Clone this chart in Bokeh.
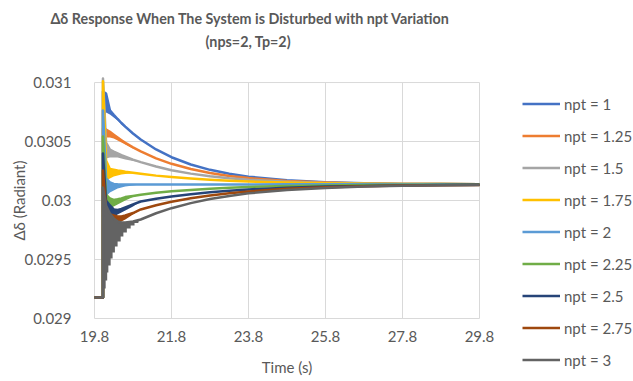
from bokeh.plotting import figure
from bokeh.models import Range1d, FixedTicker, Legend, LegendItem, Title
from bokeh.embed import file_html
from bokeh.resources import INLINE

# ---------------- data ----------------
series_names = ["npt = 1", "npt = 1.25", "npt = 1.5", "npt = 1.75", "npt = 2",
                "npt = 2.25", "npt = 2.5", "npt = 2.75", "npt = 3"]
colors = ["#4472C4", "#ED7D31", "#A5A5A5", "#FFC000", "#5B9BD5",
          "#70AD47", "#264478", "#9E480E", "#636363"]

x_ticks = [19.8, 21.8, 23.8, 25.8, 27.8, 29.8]
x_tick_labels = ["19.8", "21.8", "23.8", "25.8", "27.8", "29.8"]
y_ticks = [0.029, 0.0295, 0.03, 0.0305, 0.031]
y_tick_labels = ["0.029", "0.0295", "0.03", "0.0305", "0.031"]

# time before / at the disturbance
t_pre = [19.8, 20.02]
base_value = 0.029178
# spike reached at the disturbance for each npt
peak_values = [0.030924, 0.030610, 0.031034, 0.031010, 0.030763,
               0.030542, 0.030398, 0.030254, 0.030110]

# time samples of the response after the disturbance
t_resp = [20.1, 20.2, 20.3, 20.4, 20.5, 20.6, 20.8, 21.0, 21.4, 21.8,
          22.3, 22.8, 23.3, 23.8, 24.8, 25.8, 26.8, 27.8, 28.8, 29.8]

resp_npt_1 = [0.030907, 0.030765, 0.030727, 0.030691, 0.030657, 0.030626, 0.030568, 0.030517, 0.030433, 0.030367,
              0.030305, 0.030260, 0.030227, 0.030202, 0.030172, 0.030155, 0.030146, 0.030141, 0.030139, 0.030138]
resp_npt_125 = [0.030602, 0.030583, 0.030558, 0.030534, 0.030511, 0.030489, 0.030450, 0.030416, 0.030357, 0.030311,
                0.030267, 0.030233, 0.030208, 0.030190, 0.030166, 0.030153, 0.030145, 0.030141, 0.030139, 0.030138]
resp_npt_15 = [0.030492, 0.030431, 0.030415, 0.030400, 0.030385, 0.030372, 0.030347, 0.030325, 0.030288, 0.030257,
               0.030228, 0.030206, 0.030189, 0.030176, 0.030159, 0.030149, 0.030144, 0.030140, 0.030139, 0.030137]
resp_npt_175 = [0.030339, 0.030267, 0.030261, 0.030255, 0.030250, 0.030244, 0.030235, 0.030227, 0.030211, 0.030199,
                0.030186, 0.030176, 0.030168, 0.030161, 0.030152, 0.030146, 0.030143, 0.030140, 0.030139, 0.030138]
resp_npt_2 = [0.030187, 0.030153, 0.030140, 0.030137, 0.030136, 0.030135, 0.030135, 0.030135, 0.030135, 0.030135,
              0.030136, 0.030136, 0.030136, 0.030136, 0.030137, 0.030137, 0.030137, 0.030137, 0.030137, 0.030137]
resp_npt_225 = [0.030051, 0.030017, 0.030005, 0.030011, 0.030018, 0.030029, 0.030039, 0.030049, 0.030065, 0.030078,
                0.030090, 0.030100, 0.030108, 0.030115, 0.030123, 0.030128, 0.030131, 0.030133, 0.030134, 0.030135]
resp_npt_25 = [0.030000, 0.029958, 0.029924, 0.029920, 0.029928, 0.029941, 0.029967, 0.029992, 0.030015, 0.030034,
               0.030054, 0.030070, 0.030083, 0.030094, 0.030108, 0.030118, 0.030124, 0.030128, 0.030131, 0.030133]
resp_npt_275 = [0.029933, 0.029882, 0.029873, 0.029865, 0.029865, 0.029873, 0.029894, 0.029924, 0.029960, 0.029989,
                0.030019, 0.030043, 0.030061, 0.030077, 0.030099, 0.030112, 0.030121, 0.030127, 0.030130, 0.030132]
resp_npt_3 = [0.029958, 0.029890, 0.029848, 0.029822, 0.029814, 0.029814, 0.029822, 0.029839, 0.029892, 0.029935,
              0.029978, 0.030013, 0.030039, 0.030061, 0.030089, 0.030107, 0.030118, 0.030125, 0.030129, 0.030132]

# lower envelope of the fast oscillation right after the disturbance
t_osc = [20.02, 20.1, 20.2, 20.3, 20.4, 20.5, 20.6, 20.8, 21.0]
osc_low_npt_1 = [0.029178, 0.030746, 0.030729, 0.030703, 0.030678, 0.030644, 0.030614, 0.030559, 0.030517]
osc_low_npt_125 = [0.029178, 0.030534, 0.030534, 0.030525, 0.030508, 0.030492, 0.030475, 0.030441, 0.030416]
osc_low_npt_15 = [0.029178, 0.030356, 0.030364, 0.030364, 0.030364, 0.030356, 0.030347, 0.030335, 0.030325]
osc_low_npt_175 = [0.029178, 0.030169, 0.030186, 0.030203, 0.030212, 0.030220, 0.030225, 0.030229, 0.030227]
osc_low_npt_2 = [0.029178, 0.030034, 0.030068, 0.030085, 0.030102, 0.030110, 0.030119, 0.030127, 0.030135]
osc_low_npt_225 = [0.029178, 0.029898, 0.029932, 0.029949, 0.029966, 0.029983, 0.030000, 0.030030, 0.030049]
osc_low_npt_25 = [0.029178, 0.029788, 0.029831, 0.029864, 0.029881, 0.029898, 0.029915, 0.029949, 0.029992]
osc_low_npt_275 = [0.029178, 0.029619, 0.029703, 0.029763, 0.029797, 0.029822, 0.029839, 0.029881, 0.029924]
# npt = 3: stair-stepped lower envelope (own time samples)
t_osc_npt_3 = [20.02, 20.05, 20.05, 20.09, 20.09, 20.13, 20.13, 20.16, 20.16, 20.22, 20.22, 20.27, 20.27, 20.33, 20.33,
               20.4, 20.4, 20.48, 20.48, 20.55, 20.55, 20.64, 20.64, 20.74, 20.74, 20.84, 20.84, 20.94, 20.94, 21.0]
osc_low_npt_3 = [0.029178, 0.029178, 0.029254, 0.029254, 0.029322, 0.029322, 0.029390, 0.029390, 0.029449, 0.029449,
                 0.029508, 0.029508, 0.029559, 0.029559, 0.029610, 0.029610, 0.029653, 0.029653, 0.029695, 0.029695,
                 0.029729, 0.029729, 0.029763, 0.029763, 0.029788, 0.029788, 0.029809, 0.029809, 0.029822, 0.029839]

responses = [resp_npt_1, resp_npt_125, resp_npt_15, resp_npt_175, resp_npt_2,
             resp_npt_225, resp_npt_25, resp_npt_275, resp_npt_3]
osc_lows = [osc_low_npt_1, osc_low_npt_125, osc_low_npt_15, osc_low_npt_175, osc_low_npt_2,
            osc_low_npt_225, osc_low_npt_25, osc_low_npt_275, osc_low_npt_3]
osc_times = [t_osc] * 8 + [t_osc_npt_3]

title_line1 = "\u0394\u03b4 Response When The System is Disturbed with npt Variation"
title_line2 = "(nps=2, Tp=2)"

# ---------------- figure ----------------
FONT = "Lato"
TXT = "#595959"
GRID = "#D9D9D9"

x_lo, x_hi = x_ticks[0], x_ticks[-1]
y_lo, y_hi = y_ticks[0], y_ticks[-1]

# the frame spans the whole canvas below the title, so axis labels and the legend
# are not cut; the axes are pinned to the value span with bounds / fixed_location
p = figure(width=633, height=381, output_backend="svg", toolbar_location=None, title=None,
           x_range=Range1d(17.3584, 33.8), y_range=Range1d(0.028466, 0.031102),
           min_border_left=0, min_border_right=0, min_border_top=70, min_border_bottom=0)
p.outline_line_color = None
p.background_fill_color = "white"
p.border_fill_color = "white"

p.xaxis.ticker = FixedTicker(ticks=x_ticks)
p.yaxis.ticker = FixedTicker(ticks=y_ticks)
p.xaxis.major_label_overrides = dict(zip(x_ticks, x_tick_labels))
p.yaxis.major_label_overrides = dict(zip(y_ticks, y_tick_labels))
p.xaxis.bounds = (x_lo, x_hi)
p.yaxis.bounds = (y_lo, y_hi)
p.xaxis.fixed_location = y_lo
p.yaxis.fixed_location = x_lo

for ax in (p.xaxis[0], p.yaxis[0]):
    ax.axis_line_color = None
    ax.major_tick_line_color = None
    ax.minor_tick_line_color = None
    ax.major_label_text_font = FONT
    ax.major_label_text_font_size = "15px"
    ax.major_label_text_color = TXT
    ax.axis_label_text_font = FONT
    ax.axis_label_text_font_size = "15px"
    ax.axis_label_text_font_style = "normal"
    ax.axis_label_text_color = TXT

p.xaxis.axis_label = "Time (s)"
p.yaxis.axis_label = "\u0394\u03b4 (Radiant)"
p.xaxis.major_label_standoff = 7
p.xaxis.axis_label_standoff = 12
p.yaxis.major_label_standoff = 17
p.yaxis.axis_label_standoff = -7

# gridlines only over the value span
p.xgrid.visible = False
p.ygrid.visible = False
p.segment(x0=x_ticks, y0=[y_lo] * len(x_ticks), x1=x_ticks, y1=[y_hi] * len(x_ticks),
          line_color=GRID, line_width=1)
p.segment(x0=[x_lo] * len(y_ticks), y0=y_ticks, x1=[x_hi] * len(y_ticks), y1=y_ticks,
          line_color=GRID, line_width=1)

items = []
for name, col, peak, resp, low, t_low in zip(series_names, colors, peak_values, responses, osc_lows, osc_times):
    upper = [peak] + resp[:len(t_osc) - 1]
    # oscillation band: lower envelope forward, upper envelope back
    p.patch(x=t_low + t_osc[::-1], y=low + upper[::-1], fill_color=col, line_color=None)
    xs = t_pre + [t_pre[-1]] + t_resp
    ys = [base_value, base_value, peak] + resp
    r = p.line(x=xs, y=ys, line_color=col, line_width=2.5, line_join="round")
    items.append(LegendItem(label=name, renderers=[r]))

# title: small spacer next to the plot, then the two title lines outward
# (frame left is now the canvas edge, so offsets are canvas x positions)
title_style = dict(text_font=FONT, text_font_size="14.3px", text_font_style="bold", text_color=TXT)
p.add_layout(Title(text=" ", align="left", standoff=0, **title_style), "above")
p.add_layout(Title(text=title_line2, align="left", offset=205, standoff=4, **title_style), "above")
p.add_layout(Title(text=title_line1, align="left", offset=50, standoff=4, **title_style), "above")

legend = Legend(items=items, location=(522, 11), orientation="vertical",
                glyph_width=38, glyph_height=21, label_height=21, spacing=11,
                label_standoff=4, padding=0, margin=0,
                border_line_color=None, background_fill_alpha=0,
                label_text_font=FONT, label_text_font_size="15px",
                label_text_color=TXT)
p.add_layout(legend)

open("out.html", "w").write(file_html(p, INLINE))
